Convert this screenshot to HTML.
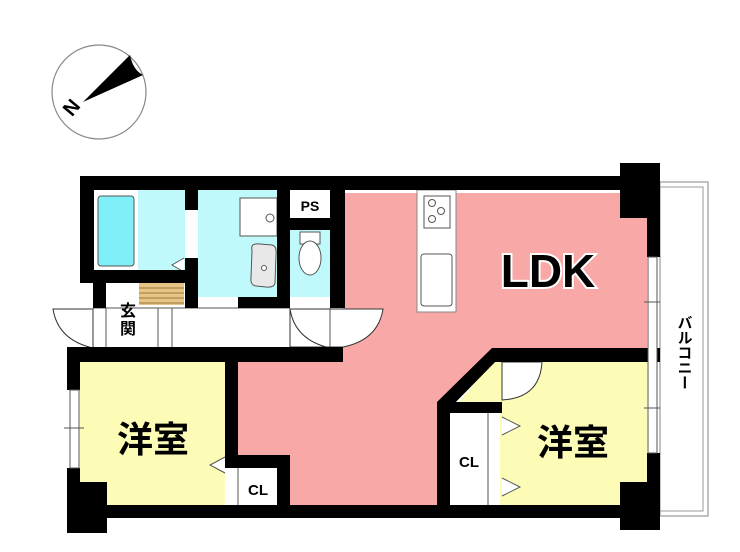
<!DOCTYPE html>
<html><head><meta charset="utf-8"><style>
html,body{margin:0;padding:0;background:#fff;}
svg{display:block;}
text{font-family:"Liberation Sans","Noto Sans CJK JP",sans-serif;font-weight:bold;}
</style></head><body>
<svg width="740" height="552" viewBox="0 0 740 552" xmlns="http://www.w3.org/2000/svg">
<!-- compass -->
<circle cx="99" cy="92" r="47" fill="#fff" stroke="#888" stroke-width="1.2"/>
<path d="M83,102 L130,55 Q133,70 143,75 Z" fill="#000"/>
<text x="72" y="114" font-size="20" font-family="Liberation Serif" font-weight="normal" transform="rotate(-50 72 108)" text-anchor="middle">N</text>

<!-- balcony -->
<rect x="660" y="182" width="48" height="334" fill="#fff" stroke="#999" stroke-width="1.2"/>
<rect x="660" y="187" width="43" height="324" fill="none" stroke="#999" stroke-width="1"/>
<text x="684" y="315" font-size="15" writing-mode="tb" text-anchor="start">バルコニー</text>

<!-- pink LDK -->
<path d="M345,193 H647 V350 H492 L437,402 V505 H290 V455 H238 V362 H343 V308 H345 Z" fill="#f9a8a8"/>
<!-- yellow rooms -->
<rect x="80" y="362" width="145" height="143" fill="#fcfcb6"/>
<path d="M492,362 H647 V505 H500 V413 H450 Z" fill="#fcfcb6"/>
<!-- blue rooms -->
<rect x="94" y="190" width="91" height="80" fill="#bff9fb"/>
<rect x="94" y="190" width="44" height="80" fill="#fff"/>
<rect x="98" y="196" width="36" height="70" rx="3" fill="#7ff0f8" stroke="#555" stroke-width="1"/>
<rect x="198" y="190" width="79" height="107" fill="#bff9fb"/>
<rect x="240" y="198" width="37" height="38" fill="#fff" stroke="#555" stroke-width="1"/>
<circle cx="270" cy="218" r="4" fill="#fff" stroke="#555"/>
<path d="M252,250 Q250,243 260,244 L272,245 Q277,246 276,255 L275,283 Q274,288 266,287 L256,286 Q250,285 251,278 Z" fill="#e8e8e8" stroke="#555"/>
<circle cx="264" cy="268" r="2.5" fill="#fff" stroke="#555"/>
<rect x="290" y="190" width="40" height="28" fill="#fff"/>
<text x="310" y="211" font-size="14" text-anchor="middle">PS</text>
<rect x="290" y="230" width="40" height="67" fill="#bff9fb"/>
<rect x="300" y="232" width="20" height="12" fill="#fff" stroke="#555"/>
<ellipse cx="310" cy="258" rx="11" ry="17" fill="#fff" stroke="#555"/>
<!-- genkan -->
<rect x="106" y="283" width="79" height="25" fill="#fff"/>
<rect x="139" y="283" width="45" height="22" fill="#e6c484"/>
<g stroke="#a07840" stroke-width="1"><line x1="139" y1="288" x2="184" y2="288"/><line x1="139" y1="293" x2="184" y2="293"/><line x1="139" y1="298" x2="184" y2="298"/><line x1="139" y1="303" x2="184" y2="303"/></g>
<!-- corridor door arcs -->
<path d="M53,309 H93 V348 Q58,340 53,309 Z" fill="#fff" stroke="#333" stroke-width="1"/>
<path d="M290,309 H383 Q378,340 343,347 H290 Z" fill="#fff" stroke="#333" stroke-width="1"/>
<path d="M290,309 H330 V348 Q295,340 290,309" fill="none" stroke="#333"/>
<g stroke="#555" stroke-width="1"><line x1="106" y1="308" x2="106" y2="348"/><line x1="158" y1="308" x2="158" y2="348"/><line x1="172" y1="308" x2="172" y2="348"/><line x1="93" y1="308" x2="290" y2="308"/><line x1="330" y1="308" x2="330" y2="348"/></g>
<text x="128" y="316" font-size="16" text-anchor="middle">玄</text>
<text x="128" y="334" font-size="16" text-anchor="middle">関</text>
<!-- kitchen -->
<rect x="417" y="190" width="39" height="122" fill="#fff" stroke="#888"/>
<rect x="424" y="196" width="26" height="32" fill="#fff" stroke="#555"/>
<circle cx="432" cy="203" r="3.5" fill="none" stroke="#555"/><circle cx="441" cy="211" r="3.5" fill="none" stroke="#555"/><circle cx="432" cy="219" r="3.5" fill="none" stroke="#555"/>
<rect x="421" y="254" width="31" height="52" rx="3" fill="#fff" stroke="#555"/>
<!-- CL closets -->
<rect x="225" y="468" width="52" height="37" fill="#fff"/>
<line x1="238" y1="468" x2="238" y2="505" stroke="#555"/>
<text x="258" y="495" font-size="15" text-anchor="middle" font-weight="normal">CL</text>
<rect x="450" y="413" width="50" height="92" fill="#fff"/>
<line x1="488" y1="413" x2="488" y2="505" stroke="#555"/>
<text x="469" y="467" font-size="15" text-anchor="middle" font-weight="normal">CL</text>
<path d="M502,417 L520,426 L502,435 M502,478 L520,487 L502,496" fill="#fff" stroke="#555"/>
<path d="M225,457 L210,465 L225,473" fill="#fff" stroke="#555"/>
<path d="M184,258 L172,265 L184,272" fill="#fff" stroke="#555"/>
<!-- door arc right room -->
<path d="M502,362 H542 Q540,398 502,400 Z" fill="#fff" stroke="#333"/>

<!-- walls -->
<g fill="#000">
<rect x="80" y="176" width="567" height="14"/>
<rect x="620" y="163" width="40" height="55"/>
<rect x="647" y="163" width="13" height="94"/>
<rect x="647" y="453" width="13" height="77"/>
<rect x="80" y="176" width="14" height="107"/>
<rect x="80" y="270" width="118" height="13"/>
<rect x="93" y="283" width="13" height="25"/>
<rect x="185" y="176" width="13" height="34"/>
<rect x="185" y="258" width="13" height="50"/>
<rect x="277" y="176" width="13" height="132"/>
<rect x="290" y="218" width="40" height="12"/>
<rect x="330" y="176" width="15" height="132"/>
<rect x="238" y="297" width="39" height="11"/>
<rect x="67" y="347" width="276" height="15"/>
<rect x="67" y="347" width="13" height="43"/>
<rect x="67" y="468" width="13" height="50"/>
<rect x="67" y="482" width="40" height="51"/>
<rect x="225" y="362" width="13" height="106"/>
<rect x="225" y="455" width="65" height="13"/>
<rect x="277" y="455" width="13" height="50"/>
<rect x="67" y="505" width="593" height="13"/>
<rect x="620" y="482" width="40" height="48"/>
<rect x="492" y="348" width="168" height="14"/>
<path d="M492,348 L502,355 L448,410 L437,402 Z"/>
<rect x="437" y="402" width="65" height="11"/>
<rect x="437" y="402" width="13" height="116"/>
</g>
<!-- windows -->
<rect x="648" y="257" width="9" height="196" fill="#fff" stroke="#555" stroke-width="1"/>
<line x1="644" y1="302" x2="660" y2="302" stroke="#555"/><line x1="644" y1="408" x2="660" y2="408" stroke="#555"/>
<rect x="70" y="390" width="9" height="78" fill="#fff" stroke="#555" stroke-width="1"/>
<line x1="64" y1="428" x2="84" y2="428" stroke="#555"/>

<!-- labels -->
<text x="548" y="287" font-size="46" text-anchor="middle" stroke="#fff" stroke-width="4" paint-order="stroke">LDK</text>
<text x="153" y="452" font-size="36" text-anchor="middle">洋室</text>
<text x="573" y="455" font-size="36" text-anchor="middle">洋室</text>
</svg>
</body></html>
